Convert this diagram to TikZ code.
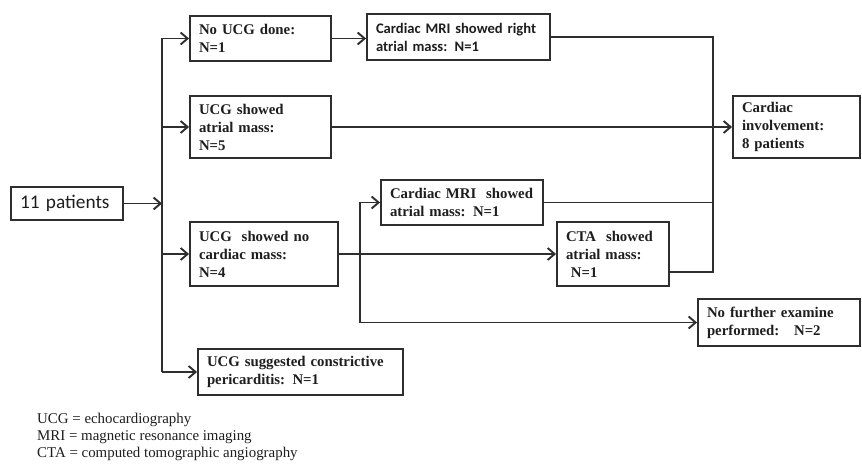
\documentclass[tikz,border=0pt]{standalone}
\usepackage{fontspec}
\setmainfont{Liberation Serif}[BoldFont={Liberation Serif Bold}]
\newfontfamily\tbf{Liberation Serif Bold}
\newfontfamily\calib{Carlito}[BoldFont={Carlito Bold}]
\usetikzlibrary{arrows.meta}
\definecolor{ln}{HTML}{2E2E2E}
\definecolor{tx}{HTML}{1E1E1E}
\tikzset{
  bx/.style={draw=ln, line width=1.9pt, inner xsep=9pt, inner ysep=0pt, align=left, text=tx,
    font=\tbf\fontsize{14.8}{18}\selectfont},
  cbx/.style={bx, font=\calib\fontsize{14.6}{18}\selectfont\bfseries},
  conn/.style={draw=ln, line width=1.9pt},
  arr/.style={conn, -{Straight Barb[length=7pt,width=12pt,line width=1.9pt]}},
}
\begin{document}
\begin{tikzpicture}[x=1pt,y=-1pt]
\path[use as bounding box, fill=white] (0,0) rectangle (862,465);

\node[bx, font=\calib\fontsize{19.3}{22}\selectfont, text width=94pt, minimum height=33pt] (pat) at (67,203.5) {11 patients};
\node[bx, text width=123pt, minimum height=45pt] (noucg) at (260.5,38.5) {No UCG done:\\N=1};
\node[cbx, text width=165pt, minimum height=46pt] (mri1) at (458.5,37) {Cardiac MRI showed right\\atrial mass: N=1};
\node[bx, text width=123pt, minimum height=62pt] (ucga) at (260.5,127) {UCG showed\\atrial mass:\\N=5};
\node[bx, text width=109pt, minimum height=62pt] (card) at (796.5,127) {Cardiac\\involvement:\\8 patients};
\node[bx, text width=144pt, minimum height=45pt] (mri2) at (462,202.5) {Cardiac MRI\ \ showed\\atrial mass: N=1};
\node[bx, text width=130pt, minimum height=64pt] (ucgn) at (264,254) {UCG\ \ showed no\\cardiac mass:\\N=4};
\node[bx, text width=94pt, minimum height=64pt] (cta) at (613,254) {CTA\ \ showed\\atrial mass:\\\ N=1};
\node[bx, text width=144pt, minimum height=47pt] (nof) at (779,322.5) {No further examine\\performed:\ \ \ N=2};
\node[bx, text width=187pt, minimum height=46pt] (cons) at (300.5,372) {UCG suggested constrictive\\pericarditis: N=1};

\node[anchor=north west, align=left, inner sep=0pt, text=tx, font=\fontsize{14.9}{17}\selectfont] (leg) at (37,413)
  {UCG = echocardiography\\MRI = magnetic resonance imaging\\CTA = computed tomographic angiography};

% trunk
\coordinate (tr) at (162,0);
\draw[arr] (pat.east) -- (tr |- pat.east);
\draw[conn] (tr |- noucg.west) -- (tr |- cons.west);
\draw[arr] (tr |- noucg.west) -- (noucg.west);
\draw[arr] (tr |- ucga.west) -- (ucga.west);
\draw[arr] (tr |- ucgn.west) -- (ucgn.west);
\draw[arr] (tr |- cons.west) -- (cons.west);

\draw[arr] (noucg.east) -- (mri1.west |- noucg.east);
\draw[arr] (ucga.east) -- (card.west);
\draw[arr] (ucgn.east) -- (cta.west);

% junction to cardiac involvement
\coordinate (j) at (713,0);
\coordinate (ctaout) at (669,272);
\draw[conn] (mri1.east) -- (j |- mri1.east) -- (j |- ctaout) -- (ctaout);
\draw[conn] (mri2.east) -- (j |- mri2.east);

% branch from UCG no mass
\coordinate (b) at (360,0);
\draw[conn] (b |- mri2.west) -- (b |- nof.west);
\draw[arr] (b |- mri2.west) -- (mri2.west);
\draw[arr] (b |- nof.west) -- (nof.west);
\end{tikzpicture}
\end{document}
